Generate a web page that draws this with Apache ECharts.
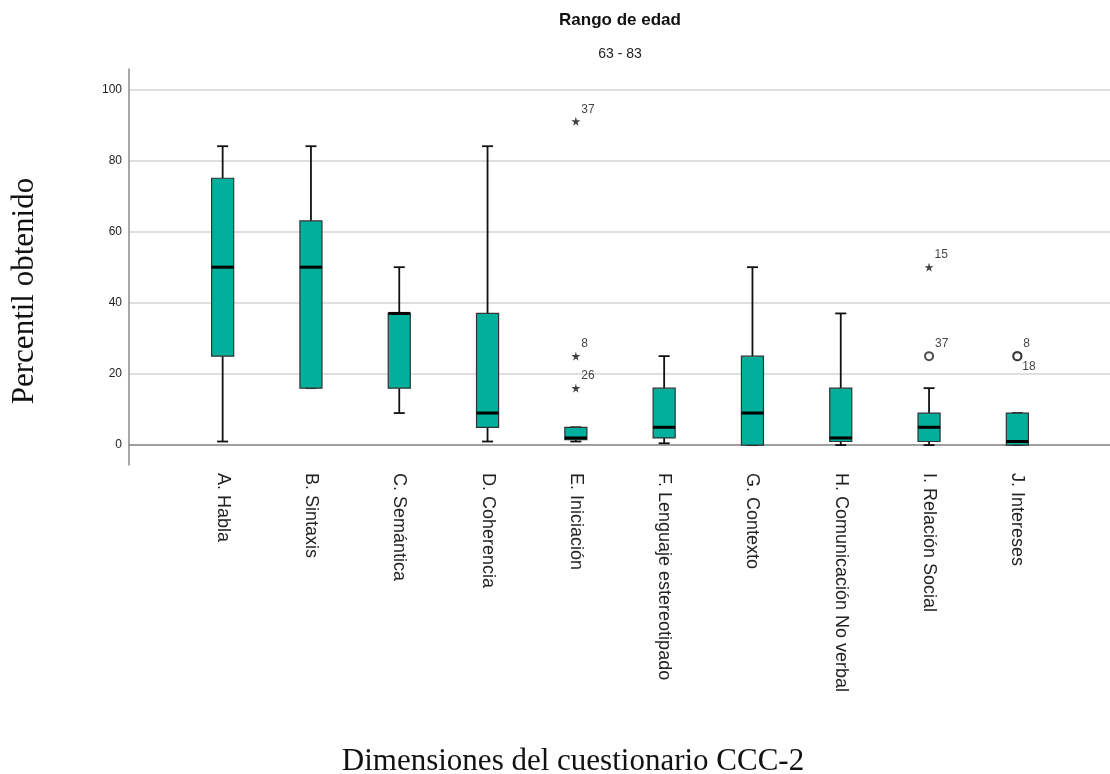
<!DOCTYPE html>
<html>
<head>
<meta charset="utf-8">
<script src="https://cdn.jsdelivr.net/npm/echarts@6/dist/echarts.min.js"></script>
<style>html,body{margin:0;padding:0;background:#fff;}#chart{width:1110px;height:774px;}</style>
</head>
<body>
<div id="chart"></div>
<script>
var categories = ['A. Habla','B. Sintaxis','C. Semántica','D. Coherencia','E. Iniciación','F. Lenguaje estereotipado','G. Contexto','H. Comunicación No verbal','I. Relación Social','J. Intereses'];
var whiskerLow  = [1, 16, 9, 1, 1, 0.5, 0, 0, 0, 0];
var q1          = [25, 16, 16, 5, 1.5, 2, 0, 1, 1, 0];
var median      = [50, 50, 37, 9, 2, 5, 9, 2, 5, 1];
var q3          = [75, 63, 37, 37, 5, 16, 25, 16, 9, 9];
var whiskerHigh = [84, 84, 50, 84, 5, 25, 50, 37, 16, 9];

var outlierCat   = [4, 4, 4, 8, 8, 9, 9];
var outlierValue = [91, 25, 16, 50, 25, 25, 25];
var outlierId    = ['37', '8', '26', '15', '37', '8', '18'];
var outlierKind  = ['extreme', 'extreme', 'extreme', 'extreme', 'mild', 'mild', 'mild'];

var yTicks = [0, 20, 40, 60, 80, 100];

var SANS = 'Arial, "Liberation Sans", sans-serif';
var SERIF = '"Times New Roman", "Liberation Serif", serif';
var TEAL = '#00B09C';
var YMIN = -5.6, YMAX = 105.7;

var boxData = categories.map(function (c, i) {
  return [i, whiskerLow[i], q1[i], median[i], q3[i], whiskerHigh[i]];
});

var STAR = 'path://M50,0 L61,35 L98,35 L68,57 L79,91 L50,70 L21,91 L32,57 L2,35 L39,35 Z';
var seen = {};
var outlierData = outlierValue.map(function (v, k) {
  var key = outlierCat[k] + '_' + v;
  var below = !!seen[key];
  seen[key] = true;
  var extreme = outlierKind[k] === 'extreme';
  return {
    value: [outlierCat[k], v],
    symbol: extreme ? STAR : 'emptyCircle',
    symbolSize: extreme ? 9 : 8,
    itemStyle: extreme ? {color: '#111'} : {color: '#222', borderWidth: 1.3},
    label: {
      show: true,
      formatter: outlierId[k],
      position: 'right',
      distance: 1,
      offset: below ? [-1, 11] : [0, -12],
      fontSize: 12,
      fontFamily: SANS,
      color: '#111'
    }
  };
});

var chart = echarts.init(document.getElementById('chart'), null, {renderer: 'canvas'});
chart.setOption({
  backgroundColor: '#fff',
  animation: false,
  title: [
    {text: 'Rango de edad', left: 620, top: 12, padding: 0, textAlign: 'center',
     textStyle: {fontFamily: SANS, fontSize: 17, fontWeight: 'bold', color: '#111'}},
    {text: '63 - 83', left: 620, top: 47, padding: 0, textAlign: 'center',
     textStyle: {fontFamily: SANS, fontSize: 14, fontWeight: 'normal', color: '#222'}}
  ],
  graphic: [
    {type: 'text', x: 25, y: 291, rotation: Math.PI / 2,
     style: {text: 'Percentil obtenido', font: '31px ' + SERIF, fill: '#111', textAlign: 'center', textVerticalAlign: 'middle'}},
    {type: 'text', x: 573, y: 762,
     style: {text: 'Dimensiones del cuestionario CCC-2', font: '31px ' + SERIF, fill: '#111', textAlign: 'center', textVerticalAlign: 'middle'}}
  ],
  grid: [
    {left: 129, right: 0, top: 69, bottom: 309},
    {left: 178.5, width: 883, top: 69, bottom: 309}
  ],
  xAxis: [
    {gridIndex: 0, type: 'value', min: 0, max: 1,
     axisLine: {show: true, lineStyle: {color: '#8a8a8a', width: 1.5}},
     axisTick: {show: false}, axisLabel: {show: false}, splitLine: {show: false}},
    {gridIndex: 1, type: 'category', data: categories, boundaryGap: true,
     axisLine: {show: false}, axisTick: {show: false},
     axisLabel: {rotate: -90, margin: 8, fontFamily: SANS, fontSize: 18, color: '#222', interval: 0}}
  ],
  yAxis: [
    {gridIndex: 0, type: 'value', min: YMIN, max: YMAX,
     axisLine: {show: true, lineStyle: {color: '#8a8a8a', width: 1.5}},
     axisTick: {show: false},
     axisLabel: {margin: 7, fontFamily: SANS, fontSize: 12, color: '#222',
       formatter: function (v) { return yTicks.indexOf(Math.round(v * 1000) / 1000) >= 0 ? String(v) : ''; }},
     splitLine: {show: true, showMinLine: false, showMaxLine: false, lineStyle: {color: '#d4d4d4', width: 1.5}}},
    {gridIndex: 1, type: 'value', min: YMIN, max: YMAX, show: false,
     splitLine: {show: false}}
  ],
  series: [
    {
      type: 'custom',
      xAxisIndex: 1, yAxisIndex: 1,
      encode: {x: 0, y: [1, 2, 3, 4, 5]},
      data: boxData,
      renderItem: function (params, api) {
        var i = api.value(0);
        var lo = api.coord([i, api.value(1)]);
        var b1 = api.coord([i, api.value(2)]);
        var md = api.coord([i, api.value(3)]);
        var b3 = api.coord([i, api.value(4)]);
        var hi = api.coord([i, api.value(5)]);
        var band = api.size([1, 0])[0];
        var w = band * 0.25;
        var cw = w / 2;
        var x = lo[0];
        var ws = {stroke: '#111', lineWidth: 1.8};
        return {
          type: 'group',
          children: [
            {type: 'line', shape: {x1: x, y1: b3[1], x2: x, y2: hi[1]}, style: ws},
            {type: 'line', shape: {x1: x - cw / 2, y1: hi[1], x2: x + cw / 2, y2: hi[1]}, style: ws},
            {type: 'line', shape: {x1: x, y1: b1[1], x2: x, y2: lo[1]}, style: ws},
            {type: 'line', shape: {x1: x - cw / 2, y1: lo[1], x2: x + cw / 2, y2: lo[1]}, style: ws},
            {type: 'rect', shape: {x: x - w / 2, y: b3[1], width: w, height: Math.max(b1[1] - b3[1], 0.5)},
             style: {fill: TEAL, stroke: '#333', lineWidth: 1.2}},
            {type: 'line', shape: {x1: x - w / 2, y1: md[1], x2: x + w / 2, y2: md[1]},
             style: {stroke: '#000', lineWidth: 3}}
          ]
        };
      }
    },
    {
      type: 'scatter',
      xAxisIndex: 1, yAxisIndex: 1,
      data: outlierData,
      z: 5
    }
  ]
});
</script>
</body>
</html>
